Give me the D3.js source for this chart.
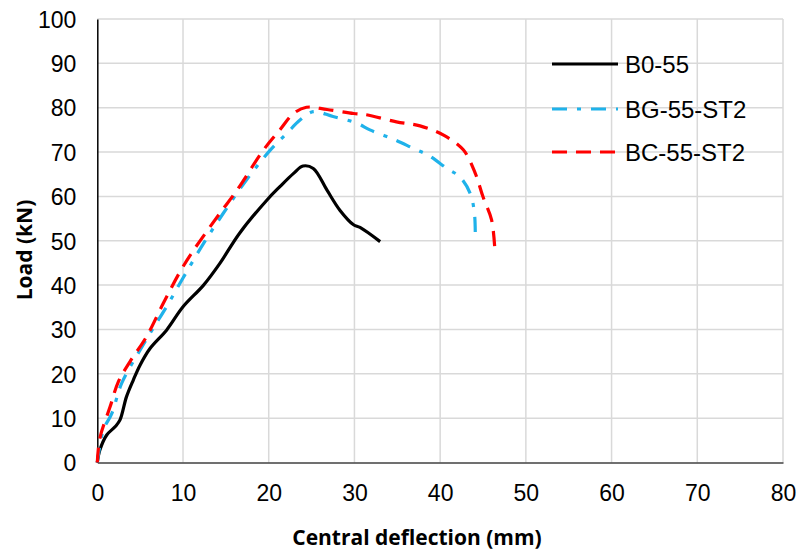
<!DOCTYPE html>
<html>
<head>
<meta charset="utf-8">
<script src="https://cdn.jsdelivr.net/npm/d3@7/dist/d3.min.js"></script>
<style>
html,body{margin:0;padding:0;background:#fff;}
svg{display:block;}
</style>
</head>
<body>
<svg id="chart" width="798" height="554"></svg>
<script>
// ---- data ----
const xTicks = [0,10,20,30,40,50,60,70,80];
const yTicks = [0,10,20,30,40,50,60,70,80,90,100];
const seriesNames = ["B0-55","BG-55-ST2","BC-55-ST2"];

const b0X = [0,0.3,1.1,2.1,2.65,3.4,4.2,5.0,6.15,8.1,10.0,12.4,14.3,16.6,19.8,21.3,22.9,24.0,25.2,26.8,28.3,29.9,30.65,33.0];
const b0Y = [0,2.8,6.2,8.1,9.6,14.8,18.6,22.0,25.7,29.9,35.1,40.0,44.9,51.7,59.2,62.2,65.2,66.85,66.3,61.4,56.9,53.6,53.0,49.8];

const bgX = [0,0.7,1.7,2.85,5.0,6.5,8.1,10.0,12.4,14.7,17.4,20.2,22.1,23.65,25.2,27.5,30.3,31.8,34.55,36.9,38.6,40.8,42.3,43.5,44.0,44.1];
const bgY = [0,7.3,11.1,17.9,25.4,30.2,35.2,41.6,49.4,56.2,63.7,70.5,74.2,77.2,79.1,78.0,76.5,75.0,72.9,70.8,69.3,66.3,64.4,60.7,56.2,50.0];

const bcX = [0,0.3,1.5,2.45,3.8,5.75,7.7,9.65,11.0,14.3,16.3,19.4,21.3,22.9,24.4,26.8,29.9,31.4,34.9,37.65,40.4,42.7,44.1,45.0,46.0,46.4];
const bcY = [0,5.5,12.6,18.2,22.7,28.4,35.9,43.0,47.2,56.2,61.4,70.5,75.0,78.7,80.1,79.6,78.7,78.4,76.8,75.9,73.8,70.5,65.2,59.9,54.7,47.5];

const colors = ["#000000","#1fb2ea","#ff0000"];
const dashes = [null,"15,10,4,10","15,9"];

// ---- layout ----
const svg = d3.select("#chart");
const pL = 97.3, pR = 783, pT = 19, pB = 462.5;
const x = d3.scaleLinear().domain([0,80]).range([pL,pR]);
const y = d3.scaleLinear().domain([0,100]).range([pB,pT]);

// gridlines
const g = svg.append("g");
g.selectAll("line.vg").data(xTicks.filter(d=>d>0)).enter().append("line")
  .attr("x1",d=>x(d)).attr("x2",d=>x(d)).attr("y1",pT).attr("y2",pB)
  .attr("stroke","#d9d9d9").attr("stroke-width",1.5);
g.selectAll("line.hg").data(yTicks.filter(d=>d>0)).enter().append("line")
  .attr("x1",pL).attr("x2",pR).attr("y1",d=>y(d)).attr("y2",d=>y(d))
  .attr("stroke","#d9d9d9").attr("stroke-width",1.5);

// axes
const xAxis = d3.axisBottom(x).tickValues(xTicks).tickSize(0).tickPadding(0);
const yAxis = d3.axisLeft(y).tickValues(yTicks).tickSize(0).tickPadding(0);

const gx = svg.append("g").attr("transform",`translate(0,${pB})`).call(xAxis);
gx.select(".domain").attr("stroke","#404040").attr("stroke-width",1.5);
gx.selectAll("text").attr("font-family","Liberation Sans, Arial, sans-serif")
  .attr("font-size",23).attr("fill","#000").attr("dy",null).attr("y",38);

const gy = svg.append("g").attr("transform",`translate(${pL},0)`).call(yAxis);
gy.select(".domain").attr("stroke","#000").attr("stroke-width",1.5);
gy.selectAll("text").attr("font-family","Liberation Sans, Arial, sans-serif")
  .attr("font-size",23).attr("fill","#000").attr("x",-21).attr("dy","0.36em");

// lines
const series = [
  {name:seriesNames[0], xs:b0X, ys:b0Y},
  {name:seriesNames[1], xs:bgX, ys:bgY},
  {name:seriesNames[2], xs:bcX, ys:bcY}
];
const lineC = d3.line().x(d=>x(d[0])).y(d=>y(d[1])).curve(d3.curveCatmullRom.alpha(0.5));
series.forEach((s,i)=>{
  const pts = s.xs.map((v,j)=>[v,s.ys[j]]);
  svg.append("path").attr("d",lineC(pts)).attr("fill","none")
    .attr("stroke",colors[i]).attr("stroke-width",3.2)
    .attr("stroke-dasharray",dashes[i]).attr("stroke-linejoin","round");
});

// legend
const legY = [64,109,152];
series.forEach((s,i)=>{
  svg.append("line").attr("x1",552).attr("x2",618).attr("y1",legY[i]).attr("y2",legY[i])
    .attr("stroke",colors[i]).attr("stroke-width",3.2).attr("stroke-dasharray",dashes[i]);
  svg.append("text").attr("x",625).attr("y",legY[i]).attr("dy","0.36em")
    .attr("font-family","Liberation Sans, Arial, sans-serif").attr("font-size",24)
    .text(s.name);
});

// axis titles
svg.append("text").attr("x",417).attr("y",545).attr("text-anchor","middle")
  .attr("font-family","Open Sans, sans-serif").attr("font-weight","bold").attr("font-size",21)
  .text("Central deflection (mm)");
svg.append("text").attr("transform","translate(32,250) rotate(-90)").attr("text-anchor","middle")
  .attr("font-family","Open Sans, sans-serif").attr("font-weight","bold").attr("font-size",21)
  .text("Load (kN)");
</script>
</body>
</html>
